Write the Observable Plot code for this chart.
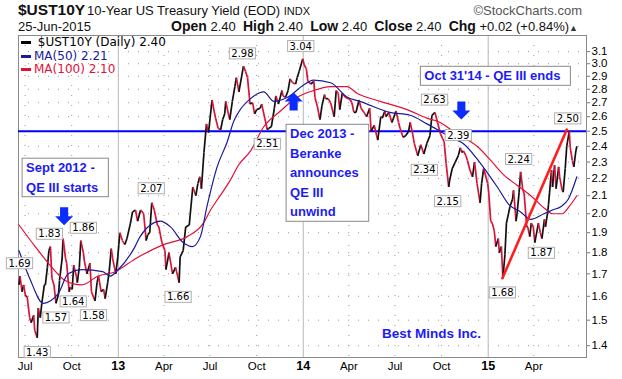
<!DOCTYPE html>
<html><head><meta charset="utf-8">
<script src="https://cdn.jsdelivr.net/npm/d3@7"></script>
<script src="https://cdn.jsdelivr.net/npm/@observablehq/plot@0.6"></script>
<style>
body{margin:0;background:#fff;width:622px;height:379px;overflow:hidden;font-family:"Liberation Sans",Arial,sans-serif;position:relative;}
#hdr{position:relative;height:34px;color:#111;}
#hdr span, #hdr div{position:absolute;white-space:nowrap;}
#legend{position:absolute;left:21px;top:36px;font-family:"DejaVu Sans",sans-serif;font-size:12px;line-height:13.5px;}
#legend div{white-space:nowrap;}
#legend i{display:inline-block;width:10px;height:3px;vertical-align:middle;margin-right:3px;}
</style></head><body>
<div id="hdr">
  <span style="left:18px;top:1px;font-weight:bold;font-size:15.5px;">$UST10Y</span>
  <span style="left:87px;top:3px;font-size:13px;">10-Year US Treasury Yield (EOD) <span style="position:static;font-size:11px;">INDX</span></span>
  <div style="right:40px;top:3px;font-size:13px;color:#555;">©StockCharts.com</div>
  <span style="left:18px;top:19px;font-size:13px;">25-Jun-2015</span>
  <div style="right:44px;top:18px;font-size:13px;"><b style="font-size:14px">Open</b> 2.40&nbsp; <b style="font-size:14px">High</b> 2.40&nbsp; <b style="font-size:14px">Low</b> 2.40&nbsp; <b style="font-size:14px">Close</b> 2.40&nbsp; <b style="font-size:14px">Chg</b> +0.02 (+0.84%)<span style="position:static;font-size:9px;color:#333">&#9650;</span></div>
</div>
<div id="chart"></div>
<div id="legend">
  <div><i style="background:#000"></i> $UST10Y (Daily) 2.40</div>
  <div style="color:#1a1a9a"><i style="background:#1a1a9a"></i>MA(50) 2.21</div>
  <div style="color:#e0103a"><i style="background:#e0103a"></i>MA(100) 2.10</div>
</div>
<script>
// ---- data ----
const price = [
["2012-06-19",1.65],["2012-06-21",1.69],["2012-06-25",1.62],["2012-06-28",1.65],["2012-07-02",1.60],["2012-07-05",1.60],
["2012-07-10",1.51],["2012-07-13",1.49],["2012-07-18",1.52],["2012-07-20",1.46],["2012-07-25",1.43],["2012-07-27",1.55],
["2012-07-31",1.51],["2012-08-03",1.57],["2012-08-08",1.65],["2012-08-10",1.65],["2012-08-14",1.73],["2012-08-17",1.81],
["2012-08-20",1.83],["2012-08-23",1.68],["2012-08-27",1.65],["2012-08-31",1.57],["2012-09-05",1.61],["2012-09-07",1.67],
["2012-09-12",1.77],["2012-09-14",1.87],["2012-09-19",1.77],["2012-09-21",1.75],["2012-09-26",1.62],["2012-09-28",1.64],
["2012-10-02",1.63],["2012-10-05",1.74],["2012-10-10",1.69],["2012-10-12",1.66],["2012-10-16",1.73],["2012-10-19",1.86],
["2012-10-24",1.80],["2012-10-26",1.76],["2012-10-31",1.70],["2012-11-06",1.75],["2012-11-09",1.62],["2012-11-16",1.58],
["2012-11-20",1.66],["2012-11-23",1.69],["2012-11-28",1.62],["2012-12-03",1.63],["2012-12-06",1.59],["2012-12-11",1.66],
["2012-12-14",1.71],["2012-12-18",1.82],["2012-12-21",1.77],["2012-12-27",1.70],["2012-12-31",1.78],
["2013-01-02",1.84],["2013-01-04",1.90],["2013-01-09",1.86],["2013-01-14",1.84],["2013-01-18",1.87],["2013-01-25",1.95],
["2013-01-29",2.01],["2013-02-04",2.02],["2013-02-08",1.96],["2013-02-14",2.02],["2013-02-20",2.00],["2013-02-25",1.86],
["2013-02-28",1.89],["2013-03-04",1.90],["2013-03-08",2.06],["2013-03-13",2.02],["2013-03-19",1.94],["2013-03-22",1.93],
["2013-03-28",1.85],["2013-04-03",1.81],["2013-04-05",1.72],["2013-04-11",1.80],["2013-04-18",1.70],["2013-04-24",1.73],
["2013-05-01",1.66],["2013-05-03",1.78],["2013-05-09",1.81],["2013-05-14",1.93],["2013-05-21",1.94],["2013-05-28",2.15],
["2013-06-03",2.10],["2013-06-07",2.17],["2013-06-11",2.21],["2013-06-14",2.14],["2013-06-19",2.36],["2013-06-24",2.55],
["2013-06-28",2.49],["2013-07-05",2.72],["2013-07-09",2.64],["2013-07-12",2.59],["2013-07-17",2.52],["2013-07-22",2.51],
["2013-07-26",2.58],["2013-07-30",2.62],["2013-08-01",2.71],["2013-08-05",2.64],["2013-08-09",2.58],["2013-08-14",2.71],
["2013-08-19",2.82],["2013-08-22",2.89],["2013-08-27",2.78],["2013-09-05",2.98],["2013-09-09",2.94],["2013-09-13",2.89],
["2013-09-18",2.69],["2013-09-23",2.70],["2013-09-27",2.62],["2013-10-01",2.65],["2013-10-08",2.66],["2013-10-11",2.69],
["2013-10-17",2.59],["2013-10-22",2.51],["2013-10-25",2.52],["2013-10-30",2.53],["2013-11-05",2.66],["2013-11-08",2.75],
["2013-11-13",2.69],["2013-11-20",2.79],["2013-11-22",2.75],["2013-11-27",2.74],["2013-12-02",2.79],["2013-12-06",2.88],
["2013-12-11",2.85],["2013-12-17",2.84],["2013-12-20",2.89],["2013-12-24",2.94],["2013-12-31",3.04],
["2014-01-03",2.99],["2014-01-07",2.96],["2014-01-10",2.86],["2014-01-16",2.84],["2014-01-22",2.86],["2014-01-24",2.74],
["2014-01-29",2.67],["2014-02-03",2.58],["2014-02-07",2.68],["2014-02-12",2.76],["2014-02-14",2.73],["2014-02-19",2.73],
["2014-02-24",2.70],["2014-03-03",2.60],["2014-03-07",2.79],["2014-03-11",2.77],["2014-03-14",2.65],["2014-03-19",2.77],
["2014-03-25",2.74],["2014-03-31",2.73],["2014-04-04",2.72],["2014-04-07",2.70],["2014-04-11",2.63],["2014-04-15",2.63],
["2014-04-21",2.72],["2014-04-25",2.66],["2014-05-01",2.63],["2014-05-06",2.60],["2014-05-12",2.66],["2014-05-15",2.50],
["2014-05-21",2.54],["2014-05-28",2.44],["2014-06-03",2.60],["2014-06-06",2.59],["2014-06-11",2.64],["2014-06-13",2.60],
["2014-06-19",2.63],["2014-06-25",2.56],["2014-07-03",2.64],["2014-07-08",2.56],["2014-07-11",2.52],["2014-07-17",2.46],
["2014-07-22",2.47],["2014-07-28",2.50],["2014-07-31",2.56],["2014-08-05",2.48],["2014-08-08",2.42],["2014-08-15",2.34],
["2014-08-21",2.41],["2014-08-27",2.35],["2014-09-02",2.42],["2014-09-08",2.47],["2014-09-12",2.61],["2014-09-18",2.63],
["2014-09-23",2.56],["2014-09-29",2.48],["2014-10-03",2.45],["2014-10-06",2.43],["2014-10-10",2.29],["2014-10-15",2.15],
["2014-10-17",2.19],["2014-10-22",2.26],["2014-10-28",2.30],["2014-11-03",2.34],["2014-11-07",2.39],["2014-11-10",2.36],
["2014-11-13",2.37],["2014-11-18",2.34],["2014-11-21",2.31],["2014-11-26",2.25],["2014-12-01",2.21],["2014-12-05",2.30],
["2014-12-10",2.17],["2014-12-16",2.06],["2014-12-19",2.17],["2014-12-23",2.26],["2014-12-31",2.17],
["2015-01-02",2.12],["2015-01-06",1.96],["2015-01-09",1.95],["2015-01-13",1.91],["2015-01-16",1.83],["2015-01-21",1.87],
["2015-01-23",1.80],["2015-01-27",1.83],["2015-01-30",1.68],["2015-02-03",1.79],["2015-02-06",1.95],["2015-02-10",2.00],
["2015-02-13",2.04],["2015-02-18",2.08],["2015-02-20",2.13],["2015-02-25",1.96],["2015-02-27",2.00],["2015-03-03",2.12],
["2015-03-06",2.24],["2015-03-10",2.14],["2015-03-13",2.11],["2015-03-18",1.93],["2015-03-20",1.93],["2015-03-24",1.88],
["2015-03-27",1.95],["2015-03-31",1.93],["2015-04-03",1.85],["2015-04-08",1.92],["2015-04-10",1.95],["2015-04-14",1.90],
["2015-04-17",1.87],["2015-04-22",1.97],["2015-04-24",1.93],["2015-04-28",2.00],["2015-04-30",2.05],["2015-05-06",2.25],
["2015-05-08",2.15],["2015-05-12",2.28],["2015-05-15",2.14],["2015-05-20",2.27],["2015-05-22",2.21],["2015-05-27",2.13],
["2015-05-29",2.12],["2015-06-02",2.26],["2015-06-05",2.40],["2015-06-10",2.50],["2015-06-12",2.39],["2015-06-16",2.31],
["2015-06-19",2.27],["2015-06-23",2.37],["2015-06-25",2.40]
];
const ma50 = [
["2012-06-19",1.81],["2012-07-10",1.68],["2012-08-06",1.57],["2012-09-04",1.61],["2012-09-24",1.70],["2012-10-22",1.72],
["2012-12-01",1.71],["2012-12-16",1.69],["2013-01-01",1.72],["2013-02-03",1.83],["2013-02-13",1.88],["2013-03-25",1.96],
["2013-04-14",1.93],["2013-05-09",1.85],["2013-05-27",1.83],["2013-06-12",1.88],["2013-06-25",2.04],["2013-07-15",2.27],
["2013-08-04",2.43],["2013-08-17",2.57],["2013-08-26",2.63],["2013-09-19",2.73],["2013-10-15",2.78],["2013-11-04",2.71],
["2013-12-01",2.74],["2014-01-01",2.83],["2014-01-21",2.87],["2014-02-24",2.85],["2014-03-29",2.74],["2014-04-23",2.71],
["2014-06-21",2.63],["2014-07-31",2.61],["2014-09-02",2.55],["2014-09-28",2.50],["2014-10-24",2.45],["2014-11-12",2.42],
["2014-12-10",2.32],["2014-12-29",2.24],["2015-01-19",2.15],["2015-02-11",2.05],["2015-03-06",2.01],["2015-03-26",1.97],
["2015-04-21",2.00],["2015-05-08",2.02],["2015-05-25",2.04],["2015-06-08",2.08],["2015-06-25",2.21]
];
const ma100 = [
["2012-06-19",1.94],["2012-07-21",1.83],["2012-08-23",1.73],["2012-09-18",1.67],["2012-10-21",1.65],["2012-11-22",1.69],
["2012-12-26",1.71],["2013-02-03",1.77],["2013-03-31",1.84],["2013-05-17",1.88],["2013-06-18",1.95],["2013-07-02",2.02],
["2013-07-21",2.10],["2013-08-10",2.19],["2013-08-26",2.28],["2013-09-19",2.37],["2013-10-15",2.53],["2013-11-17",2.64],
["2013-12-20",2.74],["2014-01-21",2.79],["2014-02-24",2.82],["2014-03-28",2.82],["2014-04-17",2.77],["2014-06-02",2.71],
["2014-07-25",2.65],["2014-09-02",2.59],["2014-09-28",2.56],["2014-10-24",2.50],["2014-11-12",2.46],["2014-12-10",2.40],
["2015-01-06",2.31],["2015-02-01",2.22],["2015-02-27",2.16],["2015-03-26",2.10],["2015-04-22",2.03],["2015-05-08",2.00],
["2015-05-27",2.00],["2015-06-10",2.04],["2015-06-25",2.10]
];
const trendline = [["2015-01-29",1.68],["2015-06-05",2.51]];
const resistance = [2.5];
const valueLabels = [
["2012-06-20",1.69,"above"],["2012-07-25",1.43,"below"],["2012-08-31",1.57,"below"],["2012-08-18",1.83,"above"],
["2012-10-24",1.86,"above"],["2012-10-04",1.64,"below"],["2012-11-13",1.58,"below"],["2013-03-07",2.07,"above"],
["2013-04-29",1.66,"below"],["2013-09-03",2.98,"above"],["2013-12-27",3.04,"above"],["2013-10-22",2.51,"below"],
["2014-09-17",2.63,"above"],["2014-11-03",2.39,"above"],["2014-08-28",2.34,"below"],["2014-10-13",2.15,"below"],
["2015-03-02",2.24,"above"],["2015-04-16",1.87,"below"],["2015-01-29",1.68,"below"],["2015-06-07",2.50,"above"]
];
const notes = [
["2012-07-03",2.323,"Sept 2012 -\nQE III starts"],
["2013-12-06",2.546,"Dec 2013 -\nBeranke\nannounces\nQE III\nunwind"],
["2014-08-28",2.978,"Oct 31'14 - QE III ends"]
];
const arrows = [["2012-09-16",1.986,"down"],["2013-12-13",2.709,"up"],["2014-11-09",2.644,"down"]];
const credit = [["2014-09-11",1.447,"Best Minds Inc."]];
const xTicks = ["2012-07-01","2012-10-01","2013-01-01","2013-04-01","2013-07-01","2013-10-01","2014-01-01","2014-04-01","2014-07-01","2014-10-01","2015-01-01","2015-04-01"];
const yTicks = [1.4,1.5,1.6,1.7,1.8,1.9,2.0,2.1,2.2,2.3,2.4,2.5,2.6,2.7,2.8,2.9,3.0,3.1];

// ---- build ----
const D = s => new Date(s + "T00:00:00Z");
const P = price.map(([d, v]) => ({date: D(d), value: v}));
const segs = d3.pairs(P).map(([a, b]) => ({x1: a.date, y1: a.value, x2: b.date, y2: b.value, c: b.value >= a.value ? "#111111" : "#d8143a"}));
const M50 = ma50.map(([d, v]) => ({date: D(d), value: v}));
const M100 = ma100.map(([d, v]) => ({date: D(d), value: v}));
const TL = trendline.map(([d, v]) => ({date: D(d), value: v}));
const VL = valueLabels.map(([d, v, s]) => ({date: D(d), value: v, text: v.toFixed(2), side: s}));
const NT = notes.map(([d, v, t]) => ({date: D(d), value: v, text: t}));
const AR = arrows.map(([d, v, s]) => ({date: D(d), value: v, dir: s}));
const CR = credit.map(([d, v, t]) => ({date: D(d), value: v, text: t}));
const XT = xTicks.map(D);
const janT = XT.filter(d => d.getUTCMonth() === 0);
const otherT = XT.filter(d => d.getUTCMonth() !== 0);

const arrowSym = (up) => ({
  draw(ctx, size) {
    const r = Math.sqrt(size / Math.PI), s = r * 0.45, k = up ? -1 : 1;
    ctx.moveTo(-s, -r * k); ctx.lineTo(s, -r * k); ctx.lineTo(s, 0); ctx.lineTo(r, 0);
    ctx.lineTo(0, r * k); ctx.lineTo(-r, 0); ctx.lineTo(-s, 0); ctx.closePath();
  }
});
const blue = "#1c1cf2";

const chart = Plot.plot({
  width: 622, height: 345,
  marginTop: 1, marginBottom: 22, marginLeft: 18, marginRight: 36,
  x: {type: "utc", domain: [D("2012-06-18"), D("2015-07-14")]},
  y: {type: "log", domain: [1.356, 3.238]},
  color: {type: "identity"},
  style: {fontFamily: "Liberation Sans, Arial, sans-serif", fontSize: "11px", background: "#fff", overflow: "visible"},
  marks: [
    Plot.gridY(yTicks, {stroke: "#9a9a9a", strokeOpacity: 1, strokeDasharray: "1,9"}),
    Plot.gridX(otherT, {stroke: "#9a9a9a", strokeOpacity: 1, strokeDasharray: "1,9"}),
    Plot.ruleX(janT, {stroke: "#b8b8b8"}),
    Plot.frame({stroke: "#8a8a8a"}),
    Plot.axisY({anchor: "right", ticks: yTicks, tickFormat: d => d.toFixed(1), tickSize: 3, tickPadding: 2, label: null, fontSize: 11.5, stroke: "#777"}),
    Plot.axisX({ticks: otherT, tickFormat: d3.utcFormat("%b"), tickSize: 0, tickPadding: 4, label: null, fontSize: 11.5}),
    Plot.axisX({ticks: janT, tickFormat: d3.utcFormat("%y"), tickSize: 0, tickPadding: 4, label: null, fontSize: 12.5, fontWeight: "bold"}),
    Plot.ruleY(resistance, {stroke: "#0000ff", strokeWidth: 2}),
    Plot.link(segs, {x1: "x1", y1: "y1", x2: "x2", y2: "y2", stroke: "c", strokeWidth: 1.7}),
    Plot.line(M100, {x: "date", y: "value", stroke: "#e0103a", strokeWidth: 1.2, curve: "monotone-x"}),
    Plot.line(M50, {x: "date", y: "value", stroke: "#1a1a9a", strokeWidth: 1.2, curve: "monotone-x"}),
    Plot.line(TL, {x: "date", y: "value", stroke: "#ff1e1e", strokeWidth: 2.6}),
    Plot.text(VL.filter(d => d.side === "above"), {x: "date", y: "value", text: "text", dy: -12.5, fill: "#000", fontSize: 10, fontFamily: "DejaVu Sans, sans-serif", ariaDescription: "vlab"}),
    Plot.text(VL.filter(d => d.side === "below"), {x: "date", y: "value", text: "text", dy: 14.5, fill: "#000", fontSize: 10, fontFamily: "DejaVu Sans, sans-serif", ariaDescription: "vlab"}),
    Plot.text(NT, {x: "date", y: "value", text: "text", textAnchor: "start", lineAnchor: "top", lineHeight: 1.5, fill: blue, fontSize: 13, fontWeight: "bold", ariaDescription: "note"}),
    Plot.dot(AR.filter(d => d.dir === "down"), {x: "date", y: "value", r: 9, symbol: arrowSym(false), fill: "#0a2cff", stroke: "none"}),
    Plot.dot(AR.filter(d => d.dir === "up"), {x: "date", y: "value", r: 9, symbol: arrowSym(true), fill: "#0a2cff", stroke: "none"}),
    Plot.text(CR, {x: "date", y: "value", text: "text", fill: blue, fontSize: 13.5, fontWeight: "bold"})
  ]
});
document.getElementById("chart").append(chart);

function boxify(label, padL, padR, padY, stroke) {
  const found = [];
  chart.querySelectorAll(`[aria-description="${label}"]`).forEach(el => {
    if (el.tagName.toLowerCase() === "text") found.push(el);
    else el.querySelectorAll("text").forEach(t => found.push(t));
  });
  found.forEach(t => {
    const b = t.getBBox();
    const r = document.createElementNS("http://www.w3.org/2000/svg", "rect");
    r.setAttribute("x", b.x - padL); r.setAttribute("y", b.y - padY);
    r.setAttribute("width", b.width + padL + padR); r.setAttribute("height", b.height + 2 * padY);
    r.setAttribute("fill", "#fff"); r.setAttribute("stroke", stroke); r.setAttribute("stroke-width", 1);
    const tr = t.getAttribute("transform"); if (tr) r.setAttribute("transform", tr);
    t.parentNode.insertBefore(r, t);
  });
}
boxify("vlab", 2, 2, 0, "#b0b0b0");
boxify("note", 4, 10, 2, "#8a8a8a");
</script>
</body></html>
